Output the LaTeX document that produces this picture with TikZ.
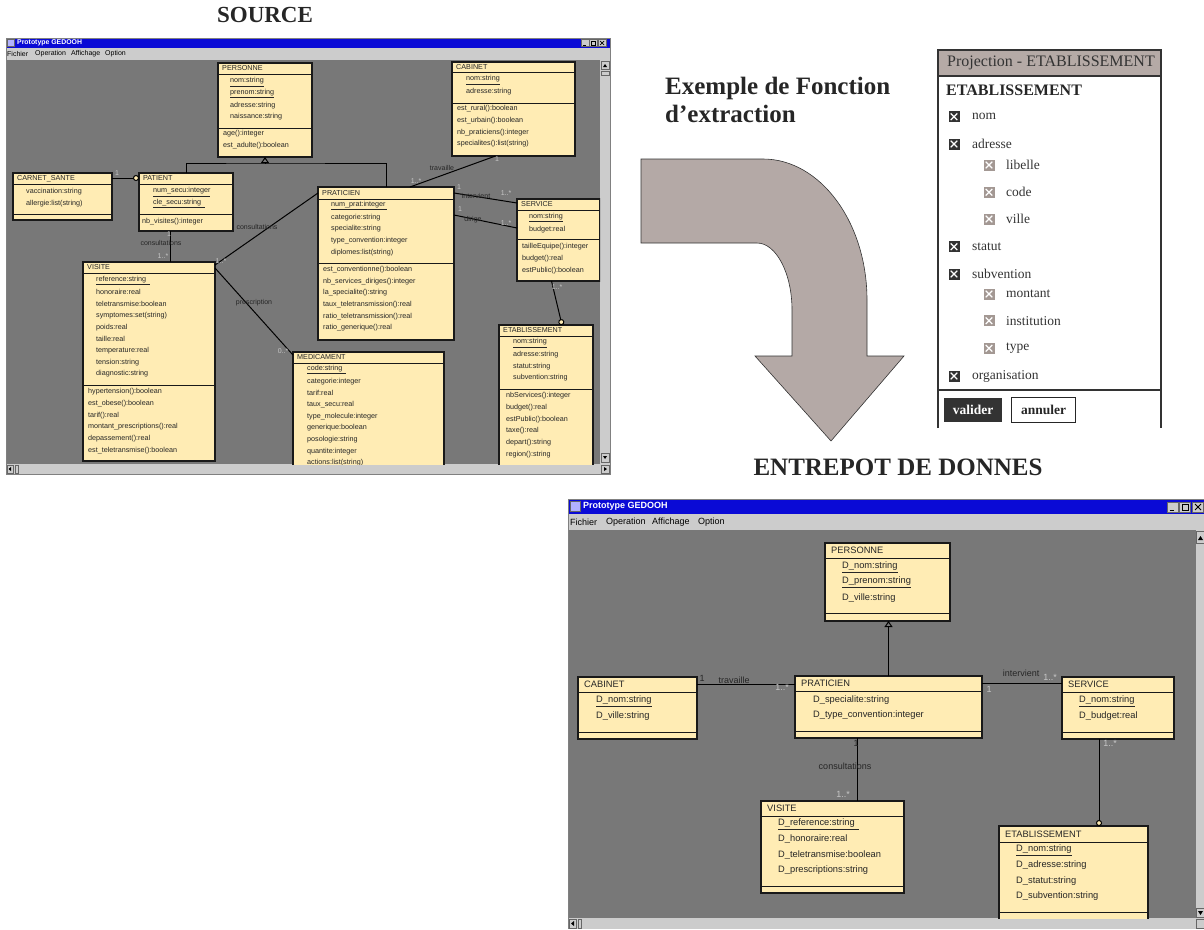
\documentclass[tikz,border=0pt]{standalone}
\usepackage{fontspec}
\setmainfont{Liberation Serif}
\newfontfamily\arial{Liberation Sans}
\usetikzlibrary{arrows.meta}

\definecolor{canvasgray}{RGB}{120,120,120}
\definecolor{menugray}{RGB}{204,204,204}
\definecolor{titleblue}{RGB}{10,10,214}
\definecolor{clsfill}{RGB}{255,236,180}
\definecolor{bendfill}{RGB}{180,169,166}
\definecolor{dlghead}{RGB}{181,170,166}
\definecolor{chkgray}{RGB}{163,152,147}
\definecolor{inkdark}{RGB}{38,38,38}

\tikzset{
  umlcls/.style={draw=black!90, line width=1.1pt, fill=clsfill, anchor=north west, inner sep=0pt, outer sep=0pt},
  clsline/.style={draw=black!90, line width=1pt},
  srow/.style={anchor=west, inner sep=0pt, text=inkdark, font=\arial\fontsize{7.2}{8}\selectfont},
  drow/.style={anchor=west, inner sep=0pt, text=inkdark, font=\arial\fontsize{9.3}{11}\selectfont},
  stitle/.style={srow, xshift=4pt},
  dtitle/.style={drow, xshift=6pt},
  conn/.style={draw=black, line width=1pt},
  aggr/.style={conn, -{Circle[length=6pt, fill=clsfill]}},
  inher/.style={conn, -{Triangle[open, length=6pt, width=8pt]}},
  slbl/.style={inner sep=0pt, text=inkdark, font=\arial\fontsize{7}{8}\selectfont},
  dlbl/.style={inner sep=0pt, text=inkdark, font=\arial\fontsize{9}{10}\selectfont},
  smult/.style={slbl, text=black!22},
  dmult/.style={dlbl, text=black!22},
  wintitle/.style={anchor=west, inner sep=0pt, text=white, font=\arial\bfseries\fontsize{#1}{#1}\selectfont},
  winmenu/.style={anchor=west, inner sep=0pt, text=black, font=\arial\fontsize{#1}{#1}\selectfont},
  winbtn/.style={fill=menugray, draw=black!60, line width=.4pt},
  head/.style={inner sep=0pt, text=black!85, font=\bfseries\fontsize{25}{28}\selectfont},
  chktop/.style={fill=black!80, minimum size=11pt, inner sep=0pt, outer sep=0pt},
  chksub/.style={fill=chkgray, minimum size=11pt, inner sep=0pt, outer sep=0pt},
  chkx/.style={draw=white, line width=1.2pt},
  chkitem/.style={anchor=west, inner sep=0pt, text=black!80, font=\fontsize{13.5}{15}\selectfont},
  dlgline/.style={draw=black!80, line width=1.5pt},
}

% name, position, width, height, header line, separator line, title style, title
\newcommand\umlbox[8]{%
  \node[umlcls, minimum width=#3, minimum height=#4] (#1) at (#2) {};
  \draw[clsline] ([yshift=-#5pt]#1.north west) -- ([yshift=-#5pt]#1.north east);
  \draw[clsline] ([yshift=-#6pt]#1.north west) -- ([yshift=-#6pt]#1.north east);
  \node[#7] (#1-t) at ([yshift=-#5pt/2]#1.north west) {#8};
}

\begin{document}
\begin{tikzpicture}[x=1pt, y=-1pt]
\useasboundingbox (0,0) rectangle (1204,929);

% headings
\node[head, anchor=base, font=\bfseries\fontsize{23}{26}\selectfont] (hSrc) at (265,22.5) {SOURCE};
\node[head, anchor=base west] (hEx1) at (665,94) {Exemple de Fonction};
\node[head, anchor=base west] (hEx2) at (665,122) {d’extraction};
\node[head, anchor=base] (hDw) at (898,475) {ENTREPOT DE DONNES};

% ---------------- source window ----------------
\fill[canvasgray] (6,60) rectangle (600,464);
\fill[titleblue] (6,38) rectangle (610,48);
\fill[menugray] (6,48) rectangle (610,60);
\fill[menugray] (600,60) rectangle (610,474);
\fill[menugray] (6,464) rectangle (600,474);
\draw[black!50, line width=.5pt] (6,38) rectangle (610,474);
\draw[winbtn, fill=blue!30!white] (7.5,39.5) rectangle (14.5,46.5);
\node[wintitle=6.9] (sTitle) at (17,43) {Prototype GEDOOH};
\foreach \x in {581,589.5,598} \draw[winbtn] (\x,39.5) rectangle ++(8,7);
\draw[line width=.8pt] (582.5,45) -- (586,45);
\draw[line width=.5pt] (591.5,41.5) rectangle (595.5,45);
\draw[line width=.7pt] (600,41) -- (604,45) (604,41) -- (600,45);
\foreach \x/\t in {7/Fichier, 35/Operation, 71/Affichage, 105/Option}
  \node[winmenu=7] (sm-\t) at (\x,54) {\t};
\draw[winbtn] (601,61) rectangle (609,69);
\fill (603,67) -- (607,67) -- (605,64) -- cycle;
\draw[winbtn] (601,71) rectangle (609,75);
\draw[winbtn] (601,453) rectangle (609,462);
\fill (603,456) -- (607,456) -- (605,459) -- cycle;
\draw[winbtn] (601,465) rectangle (609,473);
\fill (604,467) -- (604,471) -- (607,469) -- cycle;
\draw[winbtn] (7,465) rectangle (13,473);
\fill (11,467) -- (11,471) -- (8.5,469) -- cycle;
\draw[winbtn] (15,465) rectangle (18,473);

\begin{scope}
\clip (6,60) rectangle (600,464);

\umlbox{sPer}{218,63}{94}{94}{11}{65}{stitle}{PERSONNE}
\foreach \t [count=\i] in {\underline{nom:string}, \underline{prenom:string}, adresse:string, naissance:string}
  \node[srow] (sPer-a\i) at (230,{70.3+11.7*\i}) {\t};
\foreach \t [count=\i] in {age():integer, est\_adulte():boolean}
  \node[srow] (sPer-m\i) at (223,{122.3+11.7*\i}) {\t};

\umlbox{sCab}{452,62}{123}{94}{10}{41}{stitle}{CABINET}
\foreach \t [count=\i] in {\underline{nom:string}, adresse:string}
  \node[srow] (sCab-a\i) at (466,{68.3+11.7*\i}) {\t};
\foreach \t [count=\i] in {est\_rural():boolean, est\_urbain():boolean, nb\_praticiens():integer, specialites():list(string)}
  \node[srow] (sCab-m\i) at (457,{97.3+11.7*\i}) {\t};

\umlbox{sCar}{13,173}{99}{47}{11}{41}{stitle}{CARNET\_SANTE}
\foreach \t [count=\i] in {vaccination:string, allergie:list(string)}
  \node[srow] (sCar-a\i) at (26,{180.3+11.7*\i}) {\t};

\umlbox{sPat}{139,173}{94}{58}{11}{41}{stitle}{PATIENT}
\foreach \t [count=\i] in {\underline{num\_secu:integer}, \underline{cle\_secu:string\enspace}}
  \node[srow] (sPat-a\i) at (153,{180.3+11.7*\i}) {\t};
\node[srow] (sPat-m1) at (142,222) {nb\_visites():integer};

\umlbox{sPra}{318,187}{136}{153}{12}{76}{stitle}{PRATICIEN}
\foreach \t [count=\i] in {\underline{num\_prat:integer\,}, categorie:string, specialite:string, type\_convention:integer, diplomes:list(string)}
  \node[srow] (sPra-a\i) at (331,{193.8+11.7*\i}) {\t};
\foreach \t [count=\i] in {est\_conventionne():boolean, nb\_services\_diriges():integer, la\_specialite():string, taux\_teletransmission():real, ratio\_teletransmission():real, ratio\_generique():real}
  \node[srow] (sPra-m\i) at (323,{257.8+11.7*\i}) {\t};

\umlbox{sSer}{517,199}{83}{82}{11}{40}{stitle}{SERVICE}
\foreach \t [count=\i] in {\underline{nom:string}, budget:real}
  \node[srow] (sSer-a\i) at (529,{205.8+11.7*\i}) {\t};
\foreach \t [count=\i] in {tailleEquipe():integer, budget():real, estPublic():boolean}
  \node[srow] (sSer-m\i) at (522,{235.3+11.7*\i}) {\t};

\umlbox{sEta}{499,325}{94}{150}{11}{64}{stitle}{ETABLISSEMENT}
\foreach \t [count=\i] in {\underline{nom:string}, adresse:string, statut:string, subvention:string}
  \node[srow] (sEta-a\i) at (513,{331.3+11.7*\i}) {\t};
\foreach \t [count=\i] in {nbServices():integer, budget():real, estPublic():boolean, taxe():real, depart():string, region():string}
  \node[srow] (sEta-m\i) at (506,{384.3+11.7*\i}) {\t};

\umlbox{sMed}{293,352}{151}{130}{11}{300}{stitle}{MEDICAMENT}
\foreach \t [count=\i] in {\underline{code:string\enspace}, categorie:integer, tarif:real, taux\_secu:real, type\_molecule:integer, generique:boolean, posologie:string, quantite:integer, actions:list(string)}
  \node[srow] (sMed-a\i) at (307,{357.8+11.7*\i}) {\t};

\umlbox{sVis}{83,262}{132}{199}{11}{123}{stitle}{VISITE}
\foreach \t [count=\i] in {\underline{reference:string\enspace}, honoraire:real, teletransmise:boolean, symptomes:set(string), poids:real, taille:real, temperature:real, tension:string, diagnostic:string}
  \node[srow] (sVis-a\i) at (96,{268.8+11.7*\i}) {\t};
\foreach \t [count=\i] in {hypertension():boolean, est\_obese():boolean, tarif():real, montant\_prescriptions():real, depassement():real, est\_teletransmise():boolean}
  \node[srow] (sVis-m\i) at (88,{380.3+11.7*\i}) {\t};

% source links
\coordinate (sInh) at (265,163);
\draw[conn] (sPat.north) |- (sInh) -| (sPra.north);
\draw[inher] (sInh) -- (sPer.south);
\draw[aggr] ([yshift=-5pt]sCar.north east) -- ([yshift=-5pt]sPat.north west);
\draw[conn] ([xshift=-18pt]sCab.south) -- ([xshift=24pt]sPra.north);
\draw[conn] ([yshift=-6pt]sPra.north east) -- ([yshift=-4pt]sSer.north west);
\draw[conn] ([yshift=-28pt]sPra.north east) -- ([yshift=-29pt]sSer.north west);
\draw[aggr] ([xshift=-7pt]sSer.south) -- ([xshift=16pt]sEta.north);
\draw[conn] ([xshift=-16pt]sPat.south) -- ([xshift=-16pt]sPat.south |- sVis.north);
\draw[conn] ([yshift=-3pt]sVis.north east) -- ([yshift=-6pt]sPra.north west);
\draw[conn] ([yshift=-6pt]sVis.north east) -- ([yshift=-3pt]sMed.north west);

\node[smult] (sM1) at (117,173) {1};
\node[slbl] (sL1) at (442,168) {travaille};
\node[smult] (sM2) at (497,159) {1};
\node[smult] (sM3) at (416,181) {1..*};
\node[slbl] (sL2) at (476,196) {intervient};
\node[smult] (sM4) at (459,187) {1};
\node[smult] (sM5) at (506,193) {1..*};
\node[slbl] (sL3) at (473,220) {dirige};
\node[smult] (sM6) at (460,209) {1};
\node[smult] (sM7) at (506,223) {1..*};
\node[smult] (sM8) at (557,287) {1..*};
\node[slbl] (sL4) at (161,243) {consultations};
\node[smult] (sM9) at (169,234) {1};
\node[smult] (sM10) at (163,256) {1..*};
\node[slbl] (sL5) at (257,227) {consultations};
\node[smult] (sM11) at (221,261) {1..*};
\node[slbl] (sL6) at (254,303) {prescription};
\node[smult] (sM12) at (283,351) {0..*};
\end{scope}

% ---------------- extraction arrow ----------------
\draw[fill=bendfill, draw=black!80, line width=.6pt]
  (641,159) -- (763,159) .. controls (820,159) and (867,222) .. (867,300)
  -- (867,356) -- (904,356) -- (831,441) -- (755,356) -- (792,356) -- (792,310)
  .. controls (792,273) and (776,243) .. (757,243) -- (641,243) -- cycle;

% ---------------- projection dialog ----------------
\fill[dlghead] (938,50) rectangle (1161,76);
\draw[dlgline] (938,428) -- (938,50) -- (1161,50) -- (1161,428);
\draw[dlgline] (938,76) -- (1161,76);
\draw[dlgline] (938,390) -- (1161,390);
\node[inner sep=0pt, text=black!80, font=\fontsize{16}{18}\selectfont] (dlgT) at (1051,63) {Projection - ETABLISSEMENT};
\node[anchor=west, inner sep=0pt, text=black!85, font=\bfseries\fontsize{16}{18}\selectfont] (dlgE) at (946,90) {ETABLISSEMENT};
\foreach \y/\t in {116.7/nom, 144/adresse, 246.7/statut, 274/subvention, 376/organisation} {
  \node[chktop] (k-\t) at (954,\y) {};
  \draw[chkx] ([shift={(2.2pt,-2.2pt)}]k-\t.north west) -- ([shift={(-2.2pt,2.2pt)}]k-\t.south east)
              ([shift={(-2.2pt,-2.2pt)}]k-\t.north east) -- ([shift={(2.2pt,2.2pt)}]k-\t.south west);
  \node[chkitem] (i-\t) at (972,\y) {\t};
}
\foreach \y/\t in {165/libelle, 192.3/code, 219/ville, 294/montant, 320.7/institution, 348.3/type} {
  \node[chksub] (k-\t) at (989,\y) {};
  \draw[chkx] ([shift={(2.2pt,-2.2pt)}]k-\t.north west) -- ([shift={(-2.2pt,2.2pt)}]k-\t.south east)
              ([shift={(-2.2pt,-2.2pt)}]k-\t.north east) -- ([shift={(2.2pt,2.2pt)}]k-\t.south west);
  \node[chkitem] (i-\t) at (1006,\y) {\t};
}
\node[fill=black!80, minimum width=58, minimum height=24, inner sep=0pt, text=white, font=\bfseries\fontsize{13.5}{15}\selectfont] (bVal) at (973,410) {valider};
\node[draw=black!85, line width=1.8pt, minimum width=64, minimum height=25, inner sep=0pt, text=black!85, font=\bfseries\fontsize{13.5}{15}\selectfont] (bAnn) at (1043.5,410) {annuler};

% ---------------- warehouse window ----------------
\fill[canvasgray] (568,530) rectangle (1196,918);
\fill[titleblue] (568,499) rectangle (1204,514);
\fill[menugray] (568,514) rectangle (1204,530);
\fill[menugray] (1196,530) rectangle (1204,929);
\fill[menugray] (568,918) rectangle (1196,929);
\draw[black!50, line width=.5pt] (568,499) -- (1204,499) (568,499) -- (568,929);
\draw[winbtn, fill=blue!30!white] (570,501) rectangle (580,511);
\node[wintitle=9] (dTitle) at (583,506.5) {Prototype GEDOOH};
\foreach \x in {1167,1179.5,1192} \draw[winbtn] (\x,502) rectangle ++(11,10);
\draw[line width=1pt] (1169.5,510) -- (1174,510);
\draw[line width=.8pt] (1182,504) rectangle (1188,510);
\draw[line width=.9pt] (1195,504) -- (1201,510) (1201,504) -- (1195,510);
\foreach \x/\t in {570/Fichier, 606/Operation, 652/Affichage, 698/Option}
  \node[winmenu=9] (dm-\t) at (\x,522) {\t};
\draw[winbtn] (1196.5,531) rectangle (1204,543);
\fill (1198,540) -- (1203,540) -- (1200.5,536) -- cycle;
\draw[winbtn] (1196.5,908) rectangle (1204,917);
\fill (1198,911) -- (1203,911) -- (1200.5,915) -- cycle;
\draw[winbtn] (1196.5,919) rectangle (1204,928);
\draw[winbtn] (569,919) rectangle (576,928);
\fill (574,921) -- (574,926) -- (571,923.5) -- cycle;
\draw[winbtn] (578,919) rectangle (581,928);

\begin{scope}
\clip (568,530) rectangle (1196,918);

\umlbox{dPer}{825,543}{125}{78}{15}{70}{dtitle}{PERSONNE}
\foreach \t [count=\i] in {\underline{D\_nom:string}, \underline{D\_prenom:string}, D\_ville:string}
  \node[drow] (dPer-a\i) at (842,{551.5+15.5*\i}) {\t};

\umlbox{dPra}{795,676}{187}{62}{15}{55}{dtitle}{PRATICIEN}
\foreach \t [count=\i] in {D\_specialite:string, D\_type\_convention:integer}
  \node[drow] (dPra-a\i) at (813,{684.5+15.5*\i}) {\t};

\umlbox{dCab}{578,677}{119}{62}{15}{55}{dtitle}{CABINET}
\foreach \t [count=\i] in {\underline{D\_nom:string}, D\_ville:string}
  \node[drow] (dCab-a\i) at (596,{685.5+15.5*\i}) {\t};

\umlbox{dSer}{1062,677}{112}{62}{15}{55}{dtitle}{SERVICE}
\foreach \t [count=\i] in {\underline{D\_nom:string}, D\_budget:real}
  \node[drow] (dSer-a\i) at (1079,{685.5+15.5*\i}) {\t};

\umlbox{dVis}{761,801}{143}{92}{15}{85}{dtitle}{VISITE}
\foreach \t [count=\i] in {\underline{D\_reference:string\enspace}, D\_honoraire:real, D\_teletransmise:boolean, D\_prescriptions:string}
  \node[drow] (dVis-a\i) at (778,{808.5+15.5*\i}) {\t};

\umlbox{dEta}{999,826}{149}{100}{16}{86}{dtitle}{ETABLISSEMENT}
\foreach \t [count=\i] in {\underline{D\_nom:string}, D\_adresse:string, D\_statut:string, D\_subvention:string}
  \node[drow] (dEta-a\i) at (1016,{834.5+15.5*\i}) {\t};

% warehouse links
\draw[inher] (dPra.north) -- (dPra.north |- dPer.south);
\draw[conn] ([yshift=-7pt]dCab.north east) -- ([yshift=-7pt]dCab.north east -| dPra.west);
\draw[conn] ([yshift=-7pt]dPra.north east) -- ([yshift=-7pt]dPra.north east -| dSer.west);
\draw[conn] ([xshift=-31pt]dPra.south) -- ([xshift=-31pt]dPra.south |- dVis.north);
\draw[aggr] ([xshift=-19pt]dSer.south) -- ([xshift=-19pt]dSer.south |- dEta.north);

\node[dlbl] (dM1) at (702,678) {1};
\node[dlbl] (dL1) at (734,680) {travaille};
\node[dmult] (dM2) at (782,687) {1..*};
\node[dlbl] (dL2) at (1021,673) {intervient};
\node[dmult] (dM3) at (1050,677) {1..*};
\node[dmult] (dM4) at (989,689) {1};
\node[dlbl] (dL3) at (845,766) {consultations};
\node[dlbl] (dM5) at (856,743) {1};
\node[dmult] (dM6) at (843,794) {1..*};
\node[dmult] (dM7) at (1110,743) {1..*};
\end{scope}

\end{tikzpicture}
\end{document}
